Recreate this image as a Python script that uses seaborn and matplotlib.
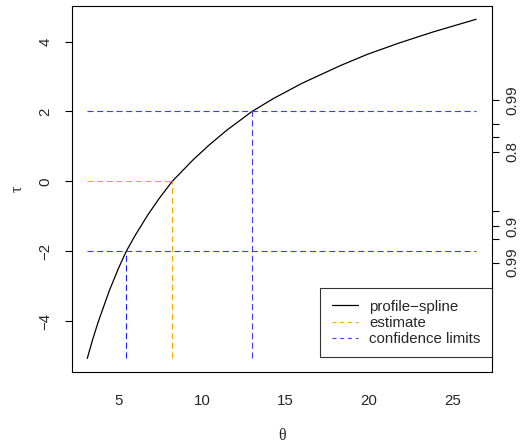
import matplotlib
matplotlib.use("Agg")
import matplotlib.pyplot as plt
import seaborn as sns
import pandas as pd
from matplotlib.lines import Line2D

# ---- data ----
theta = [3.12, 3.45, 3.78, 4.45, 5.0, 5.46, 6.0, 6.75, 7.4, 8.21, 9.47, 10.4, 11.47, 12.99,
         14.27, 16.0, 18.27, 19.87, 21.8, 23.86, 26.42]
tau = [-5.07, -4.52, -4.02, -3.12, -2.48, -2.0, -1.54, -0.96, -0.51, 0.0, 0.62, 1.03, 1.46, 2.0,
       2.37, 2.81, 3.31, 3.63, 3.96, 4.28, 4.64]
theta_hat = 8.21
conf_lower = 5.46
conf_upper = 12.99
tau_limits = [-2.0, 2.0]
left_ticks = [-4, -2, 0, 2, 4]
bottom_ticks = [5, 10, 15, 20, 25]
right_ticks = [-2.3263, -1.6449, -1.2816, -0.8416, 0.8416, 1.2816, 1.6449, 2.3263]
right_labels = ["0.99", "", "0.9", "", "0.8", "", "", "0.99"]
legend_labels = ["profile\u2212spline", "estimate", "confidence limits"]

sns.set_style("white")
plt.rcParams["font.family"] = ["Liberation Sans", "DejaVu Sans"]
plt.rcParams["axes.unicode_minus"] = True

FS = 10.8
fig = plt.figure(figsize=(5.21, 4.46), dpi=100)
ax = fig.add_axes([0.1376, 0.1659, 0.8061, 0.8213])

df = pd.DataFrame({"theta": theta, "tau": tau})
sns.lineplot(data=df, x="theta", y="tau", sort=False, color="black", lw=0.9, ax=ax)

tmin, tmax = min(theta), max(theta)
ymin, ymax = min(tau), max(tau)
dash = (5.5, 3.2)
# estimate
ax.plot([tmin, theta_hat], [0, 0], color="#FFA500", lw=0.8, dashes=dash)
ax.plot([theta_hat, theta_hat], [ymin, 0], color="#FFA500", lw=0.8, dashes=dash)
# confidence limits
for t in tau_limits:
    ax.plot([tmin, tmax], [t, t], color="#3c3cff", lw=0.8, dashes=dash)
ax.plot([conf_lower, conf_lower], [ymin, tau_limits[0]], color="#1a1aff", lw=0.8, dashes=dash)
ax.plot([conf_upper, conf_upper], [ymin, tau_limits[1]], color="#3c3cff", lw=0.8, dashes=dash)

xr = tmax - tmin
yr = ymax - ymin
ax.set_xlim(tmin - 0.04 * xr, tmax + 0.04 * xr)
ax.set_ylim(ymin - 0.04 * yr, ymax + 0.04 * yr)

ax.set_xticks(bottom_ticks)
ax.set_xticklabels([str(v) for v in bottom_ticks], fontsize=FS)
ax.set_yticks(left_ticks)
ax.set_yticklabels([("\u2212" + str(-v)) if v < 0 else str(v) for v in left_ticks],
                   fontsize=FS, rotation=90, va="center")
ax.tick_params(axis="x", length=5, width=0.8, color="black", pad=10.5, direction="out")
ax.tick_params(axis="y", length=5, width=0.8, color="black", pad=9, direction="out")
ax.set_xlabel("\u03b8", fontsize=FS + 0.5, family=["Liberation Serif", "DejaVu Serif"], labelpad=15)
ax.set_ylabel("\u03c4", fontsize=FS + 0.5, family=["Liberation Serif", "DejaVu Serif"], labelpad=9)

for s in ax.spines.values():
    s.set_color("black")
    s.set_linewidth(0.8)

ax2 = ax.twinx()
ax2.set_ylim(ax.get_ylim())
ax2.set_yticks(right_ticks)
ax2.set_yticklabels(right_labels, fontsize=FS, rotation=90, va="center")
ax2.tick_params(axis="y", length=5, width=0.8, color="black", pad=5, direction="out")
for s in ax2.spines.values():
    s.set_visible(False)

handles = [
    Line2D([0], [0], color="black", lw=0.9),
    Line2D([0], [0], color="#FFA500", lw=0.8, dashes=(3.5, 3.5)),
    Line2D([0], [0], color="#3c3cff", lw=0.8, dashes=(3.5, 3.5)),
]
leg = ax.legend(handles, legend_labels, loc="lower right", bbox_to_anchor=(1.0, 0.04),
                fontsize=FS, frameon=True, fancybox=False, edgecolor="black",
                handlelength=1.75, handletextpad=0.75, labelspacing=0.15,
                borderpad=0.75, borderaxespad=0.0)
leg.get_frame().set_linewidth(0.8)

fig.savefig("out.png", dpi=100)
